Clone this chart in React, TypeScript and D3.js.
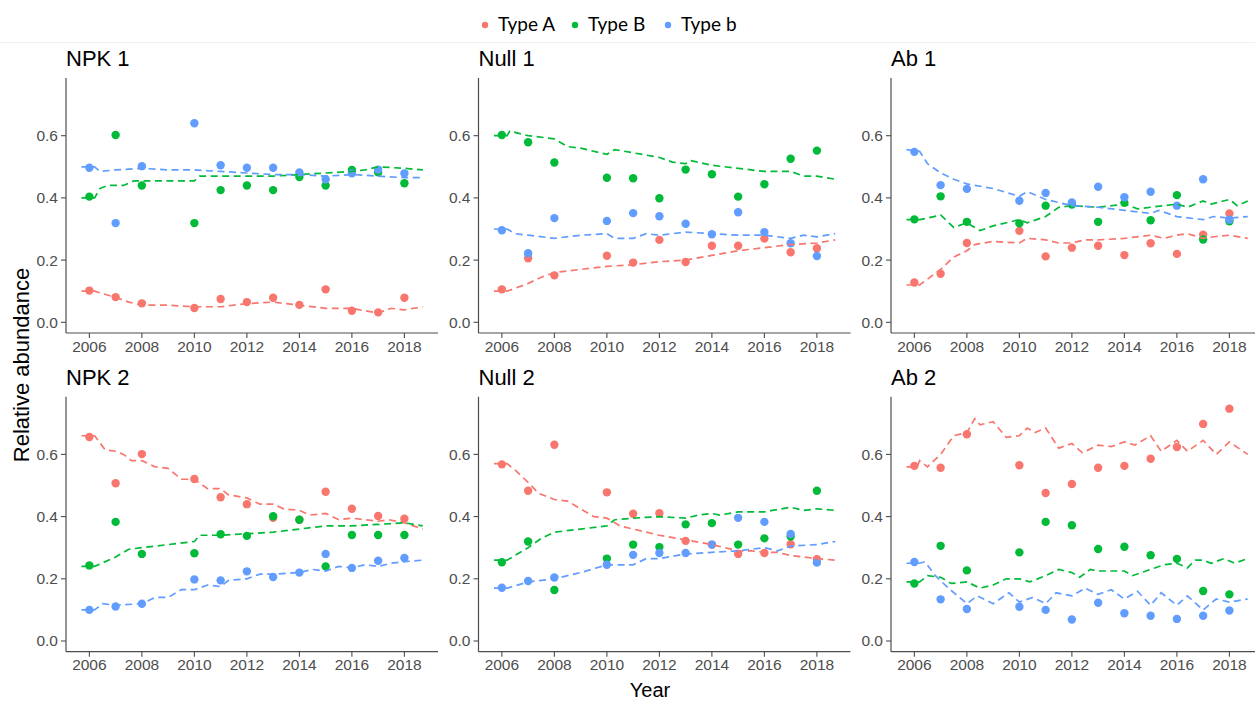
import React from 'react';
import * as d3 from 'd3';

const years = [2006, 2007, 2008, 2010, 2011, 2012, 2013, 2014, 2015, 2016, 2017, 2018];
const seriesNames = ['Type A', 'Type B', 'Type b'];
const colors = ['#F8766D', '#00BA38', '#619CFF'];
const panelTitles = ['NPK 1', 'Null 1', 'Ab 1', 'NPK 2', 'Null 2', 'Ab 2'];
const xTicks = [2006, 2008, 2010, 2012, 2014, 2016, 2018];
const yTicks = [0, 0.2, 0.4, 0.6];

// ---- observed points ----
const npk1A = [0.102, 0.081, 0.061, 0.046, 0.075, 0.065, 0.079, 0.056, 0.106, 0.037, 0.032, 0.079];
const npk1B = [0.404, 0.602, 0.440, 0.319, 0.425, 0.440, 0.425, 0.467, 0.440, 0.490, 0.482, 0.447];
const npk1b = [0.497, 0.319, 0.502, 0.640, 0.505, 0.497, 0.497, 0.482, 0.460, 0.479, 0.491, 0.479];

const null1A = [0.106, 0.206, 0.151, 0.214, 0.192, 0.265, 0.194, 0.246, 0.246, 0.269, 0.225, 0.238];
const null1B = [0.602, 0.579, 0.514, 0.465, 0.463, 0.399, 0.491, 0.476, 0.404, 0.444, 0.526, 0.552];
const null1b = [0.296, 0.222, 0.335, 0.326, 0.351, 0.341, 0.317, 0.283, 0.354, 0.290, 0.254, 0.213];

const ab1A = [0.128, 0.156, 0.255, 0.294, 0.212, 0.240, 0.246, 0.216, 0.254, 0.220, 0.282, 0.350];
const ab1B = [0.331, 0.405, 0.323, 0.318, 0.375, 0.379, 0.323, 0.384, 0.328, 0.409, 0.266, 0.325];
const ab1b = [0.548, 0.441, 0.429, 0.391, 0.416, 0.385, 0.436, 0.402, 0.420, 0.375, 0.460, 0.330];

const npk2A = [0.656, 0.507, 0.601, 0.521, 0.462, 0.440, 0.396, 0.390, 0.480, 0.425, 0.402, 0.393];
const npk2B = [0.243, 0.383, 0.280, 0.282, 0.343, 0.338, 0.401, 0.390, 0.240, 0.341, 0.341, 0.341];
const npk2b = [0.100, 0.111, 0.120, 0.198, 0.195, 0.224, 0.206, 0.220, 0.280, 0.235, 0.258, 0.267];

const null2A = [0.568, 0.483, 0.631, 0.478, 0.409, 0.411, 0.322, 0.310, 0.280, 0.283, 0.311, 0.263];
const null2B = [0.253, 0.320, 0.164, 0.265, 0.310, 0.302, 0.375, 0.379, 0.310, 0.330, 0.336, 0.483];
const null2b = [0.171, 0.193, 0.204, 0.245, 0.277, 0.283, 0.283, 0.310, 0.396, 0.383, 0.344, 0.252];

const ab2A = [0.563, 0.557, 0.665, 0.565, 0.476, 0.505, 0.557, 0.563, 0.586, 0.624, 0.698, 0.747];
const ab2B = [0.185, 0.306, 0.227, 0.285, 0.383, 0.372, 0.296, 0.303, 0.276, 0.264, 0.161, 0.150];
const ab2b = [0.254, 0.134, 0.103, 0.110, 0.100, 0.069, 0.123, 0.089, 0.081, 0.071, 0.081, 0.098];

// ---- fitted (dashed) curves: [year, value] ----
const npk1AFit = [[2005.7, 0.10], [2006.2, 0.10], [2007, 0.08], [2007.5, 0.065], [2008, 0.055], [2009, 0.055], [2010, 0.05], [2010.5, 0.05], [2011, 0.05], [2012, 0.06], [2013, 0.065], [2013.5, 0.06], [2014, 0.055], [2015, 0.045], [2016, 0.045], [2016.3, 0.04], [2017, 0.03], [2017.5, 0.045], [2018, 0.04], [2018.7, 0.05]];
const npk1BFit = [[2005.7, 0.40], [2006.2, 0.40], [2006.4, 0.43], [2006.7, 0.44], [2007.3, 0.44], [2007.7, 0.455], [2008, 0.455], [2009, 0.455], [2010, 0.455], [2010.2, 0.47], [2011, 0.47], [2012, 0.47], [2013, 0.47], [2014, 0.475], [2015, 0.48], [2016, 0.485], [2016.5, 0.49], [2017, 0.50], [2018, 0.495], [2018.7, 0.49]];
const npk1bFit = [[2005.7, 0.50], [2006.2, 0.50], [2006.4, 0.485], [2007, 0.49], [2008, 0.495], [2009, 0.49], [2010, 0.49], [2011, 0.485], [2012, 0.48], [2013, 0.475], [2014, 0.475], [2015, 0.47], [2016, 0.475], [2017, 0.47], [2018, 0.465], [2018.7, 0.465]];

const null1AFit = [[2005.7, 0.10], [2006.2, 0.10], [2007, 0.125], [2007.5, 0.145], [2008, 0.16], [2009, 0.17], [2010, 0.18], [2011, 0.185], [2012, 0.195], [2013, 0.20], [2014, 0.215], [2015, 0.23], [2016, 0.24], [2017, 0.25], [2018, 0.255], [2018.7, 0.265]];
const null1BFit = [[2005.7, 0.60], [2006.2, 0.60], [2006.3, 0.615], [2007, 0.60], [2008, 0.59], [2008.5, 0.565], [2009, 0.56], [2010, 0.54], [2010.3, 0.555], [2011, 0.545], [2012, 0.53], [2012.5, 0.515], [2013, 0.51], [2013.2, 0.52], [2014, 0.505], [2015, 0.495], [2016, 0.485], [2017, 0.485], [2017.5, 0.47], [2018, 0.47], [2018.7, 0.46]];
const null1bFit = [[2005.7, 0.30], [2006.2, 0.30], [2006.5, 0.285], [2007, 0.28], [2008, 0.27], [2009, 0.28], [2010, 0.285], [2010.3, 0.27], [2011, 0.27], [2011.5, 0.285], [2012, 0.28], [2013, 0.29], [2014, 0.285], [2015, 0.28], [2016, 0.28], [2017, 0.27], [2017.5, 0.28], [2018, 0.275], [2018.7, 0.285]];

const ab1AFit = [[2005.7, 0.12], [2006.2, 0.12], [2007, 0.17], [2007.5, 0.21], [2008, 0.23], [2008.3, 0.25], [2009, 0.26], [2010, 0.255], [2010.3, 0.27], [2011, 0.265], [2011.5, 0.255], [2012, 0.255], [2012.5, 0.265], [2013, 0.265], [2014, 0.27], [2015, 0.28], [2015.5, 0.27], [2016, 0.28], [2016.4, 0.285], [2017, 0.27], [2017.4, 0.275], [2018, 0.28], [2018.7, 0.27]];
const ab1BFit = [[2005.7, 0.33], [2006.2, 0.33], [2006.5, 0.335], [2007, 0.345], [2007.5, 0.305], [2008, 0.32], [2008.5, 0.295], [2009, 0.31], [2010, 0.33], [2010.3, 0.32], [2011, 0.34], [2011.5, 0.37], [2012, 0.375], [2013, 0.37], [2014, 0.38], [2014.5, 0.365], [2015, 0.37], [2016, 0.38], [2016.4, 0.37], [2017, 0.39], [2017.3, 0.38], [2018, 0.395], [2018.3, 0.375], [2018.7, 0.39]];
const ab1bFit = [[2005.7, 0.555], [2006.2, 0.55], [2006.5, 0.51], [2007, 0.48], [2007.5, 0.46], [2008, 0.445], [2009, 0.43], [2010, 0.405], [2010.3, 0.42], [2011, 0.395], [2012, 0.375], [2013, 0.37], [2014, 0.36], [2015, 0.35], [2015.3, 0.36], [2016, 0.34], [2017, 0.33], [2017.4, 0.34], [2018, 0.335], [2018.7, 0.34]];

const npk2AFit = [[2005.7, 0.66], [2006.2, 0.66], [2006.6, 0.615], [2007, 0.61], [2007.3, 0.60], [2007.6, 0.58], [2008, 0.58], [2008.5, 0.56], [2009, 0.555], [2009.5, 0.52], [2010, 0.52], [2010.5, 0.49], [2011, 0.49], [2011.3, 0.47], [2012, 0.46], [2012.5, 0.44], [2013, 0.44], [2013.4, 0.425], [2014, 0.42], [2014.4, 0.405], [2015, 0.41], [2015.5, 0.39], [2016, 0.395], [2016.5, 0.39], [2017, 0.385], [2017.4, 0.39], [2018, 0.38], [2018.7, 0.36]];
const npk2BFit = [[2005.7, 0.24], [2006.2, 0.24], [2007, 0.27], [2007.5, 0.295], [2008, 0.30], [2008.5, 0.305], [2009, 0.31], [2010, 0.32], [2010.2, 0.34], [2011, 0.34], [2012, 0.345], [2013, 0.35], [2014, 0.36], [2015, 0.37], [2016, 0.37], [2017, 0.375], [2018, 0.38], [2018.7, 0.37]];
const npk2bFit = [[2005.7, 0.10], [2006.2, 0.10], [2006.5, 0.12], [2007, 0.115], [2008, 0.12], [2008.5, 0.14], [2009, 0.14], [2009.5, 0.165], [2010, 0.165], [2010.5, 0.18], [2011, 0.175], [2011.3, 0.195], [2012, 0.20], [2012.5, 0.215], [2013, 0.215], [2014, 0.22], [2014.5, 0.23], [2015, 0.225], [2015.5, 0.24], [2016, 0.235], [2016.5, 0.245], [2017, 0.24], [2017.5, 0.25], [2018, 0.255], [2018.7, 0.26]];

const null2AFit = [[2005.7, 0.57], [2006.2, 0.57], [2006.5, 0.55], [2007, 0.51], [2007.4, 0.475], [2008, 0.455], [2008.5, 0.45], [2009, 0.425], [2009.5, 0.40], [2010, 0.395], [2010.5, 0.37], [2011, 0.36], [2012, 0.34], [2013, 0.325], [2014, 0.31], [2014.5, 0.30], [2015, 0.29], [2015.5, 0.29], [2016, 0.285], [2016.5, 0.285], [2017, 0.275], [2018, 0.265], [2018.7, 0.26]];
const null2BFit = [[2005.7, 0.26], [2006.2, 0.26], [2007, 0.30], [2007.5, 0.33], [2008, 0.35], [2009, 0.36], [2010, 0.37], [2010.3, 0.39], [2011, 0.395], [2012, 0.40], [2013, 0.395], [2013.5, 0.405], [2014, 0.41], [2014.3, 0.405], [2015, 0.415], [2016, 0.415], [2016.3, 0.42], [2017, 0.43], [2017.5, 0.42], [2018, 0.425], [2018.7, 0.42]];
const null2bFit = [[2005.7, 0.17], [2006.2, 0.17], [2007, 0.19], [2007.5, 0.195], [2008, 0.20], [2009, 0.22], [2010, 0.245], [2011, 0.245], [2011.5, 0.265], [2012, 0.265], [2013, 0.28], [2014, 0.285], [2015, 0.29], [2016, 0.30], [2016.5, 0.29], [2017, 0.305], [2018, 0.31], [2018.7, 0.32]];

const ab2AFit = [[2005.7, 0.56], [2006.1, 0.56], [2006.2, 0.58], [2006.5, 0.56], [2007, 0.60], [2007.5, 0.66], [2008, 0.67], [2008.3, 0.715], [2008.5, 0.695], [2009, 0.705], [2009.5, 0.655], [2010, 0.66], [2010.3, 0.685], [2010.6, 0.67], [2011, 0.685], [2011.5, 0.62], [2012, 0.635], [2012.4, 0.605], [2013, 0.63], [2013.5, 0.625], [2014, 0.64], [2014.4, 0.63], [2015, 0.66], [2015.4, 0.61], [2016, 0.645], [2016.4, 0.61], [2017, 0.645], [2017.5, 0.60], [2018, 0.64], [2018.7, 0.60]];
const ab2BFit = [[2005.7, 0.19], [2006.2, 0.19], [2006.5, 0.21], [2007, 0.205], [2007.4, 0.185], [2008, 0.19], [2008.5, 0.17], [2009, 0.18], [2009.5, 0.20], [2010, 0.20], [2010.4, 0.19], [2011, 0.21], [2011.5, 0.23], [2012, 0.22], [2012.3, 0.205], [2012.7, 0.23], [2013, 0.225], [2014, 0.225], [2014.3, 0.21], [2015, 0.23], [2015.5, 0.245], [2016, 0.25], [2016.4, 0.235], [2016.7, 0.26], [2017, 0.26], [2017.3, 0.25], [2017.8, 0.265], [2018.2, 0.25], [2018.7, 0.265]];
const ab2bFit = [[2005.7, 0.25], [2006.2, 0.25], [2006.4, 0.255], [2006.8, 0.21], [2007.3, 0.17], [2008, 0.12], [2008.4, 0.145], [2009, 0.12], [2009.6, 0.155], [2010, 0.125], [2010.5, 0.14], [2011, 0.12], [2011.4, 0.155], [2012, 0.145], [2012.5, 0.17], [2013, 0.15], [2013.5, 0.165], [2014, 0.135], [2014.5, 0.16], [2015, 0.115], [2015.4, 0.155], [2016, 0.115], [2016.4, 0.145], [2017, 0.10], [2017.5, 0.135], [2018, 0.125], [2018.7, 0.135]];

const panelPoints = [
  [npk1A, npk1B, npk1b], [null1A, null1B, null1b], [ab1A, ab1B, ab1b],
  [npk2A, npk2B, npk2b], [null2A, null2B, null2b], [ab2A, ab2B, ab2b],
];
const panelFits = [
  [npk1AFit, npk1BFit, npk1bFit], [null1AFit, null1BFit, null1bFit], [ab1AFit, ab1BFit, ab1bFit],
  [npk2AFit, npk2BFit, npk2bFit], [null2AFit, null2BFit, null2bFit], [ab2AFit, ab2BFit, ab2bFit],
];

// ---- layout ----
const W = 1255, H = 702;
const colX = [66, 478.5, 891];
const rowY = [78, 396.7];
const PW = 372, PH = 255;
const axisColor = '#4d4d4d';
const tickTextColor = '#4d4d4d';
const FONT = 'Liberation Sans, Arial, sans-serif';

const x = d3.scaleLinear().domain([2005.11, 2019.28]).range([0, PW]);
const y = d3.scaleLinear().domain([-0.0344, 0.7855]).range([PH, 0]);
const line = d3.line<number[]>().x(d => x(d[0])).y(d => y(d[1]));

function Panel({ idx }: { idx: number }) {
  const cx = colX[idx % 3];
  const cy = rowY[Math.floor(idx / 3)];
  return (
    <g transform={`translate(${cx},${cy})`}>
      <text x={0} y={-12} fontSize={22} fontFamily={FONT} fill="#000">{panelTitles[idx]}</text>
      {panelPoints[idx].map((vals, s) => (
        <g key={'p' + s}>
          {vals.map((v, i) => (
            <circle key={i} cx={x(years[i])} cy={y(v)} r={4.2} fill={colors[s]} />
          ))}
        </g>
      ))}
      {panelFits[idx].map((pts, s) => (
        <path key={'f' + s} d={line(pts as number[][]) || ''} fill="none" stroke={colors[s]} strokeWidth={1.7} strokeDasharray="7 4.5" />
      ))}
      <line x1={0} x2={0} y1={0} y2={PH} stroke={axisColor} strokeWidth={1.2} />
      <line x1={0} x2={PW} y1={PH} y2={PH} stroke={axisColor} strokeWidth={1.2} />
      {yTicks.map(t => (
        <g key={'y' + t} transform={`translate(0,${y(t)})`}>
          <line x1={-5} x2={0} stroke={axisColor} strokeWidth={1.1} />
          <text x={-8} dy="0.35em" textAnchor="end" fontSize={15.5} fill={tickTextColor} fontFamily={FONT}>{d3.format('.1f')(t)}</text>
        </g>
      ))}
      {xTicks.map(t => (
        <g key={'x' + t} transform={`translate(${x(t)},${PH})`}>
          <line y1={0} y2={5} stroke={axisColor} strokeWidth={1.1} />
          <text y={18.5} textAnchor="middle" fontSize={15.5} fill={tickTextColor} fontFamily={FONT}>{t}</text>
        </g>
      ))}
    </g>
  );
}

const legendDotX = [485, 575, 668];

export default function App() {
  return (
    <svg width={W} height={H} style={{ position: 'absolute', left: 0, top: 0, background: '#fff' }}>
      <rect width={W} height={H} fill="#fff" />
      <line x1={0} x2={W} y1={42.5} y2={42.5} stroke="#f0f0f0" strokeWidth={1} />
      {seriesNames.map((n, i) => (
        <g key={n}>
          <circle cx={legendDotX[i]} cy={25} r={3.2} fill={colors[i]} />
          <text x={legendDotX[i] + 13} y={31} fontSize={19} fontFamily="Lato, Carlito, Calibri, sans-serif" fill="#000">{n}</text>
        </g>
      ))}
      {panelTitles.map((_, i) => <Panel key={i} idx={i} />)}
      <text transform="translate(29,365) rotate(-90)" textAnchor="middle" fontSize={22} fontFamily={FONT} fill="#000">Relative abundance</text>
      <text x={650} y={697} textAnchor="middle" fontSize={20} fontFamily={FONT} fill="#000">Year</text>
    </svg>
  );
}
